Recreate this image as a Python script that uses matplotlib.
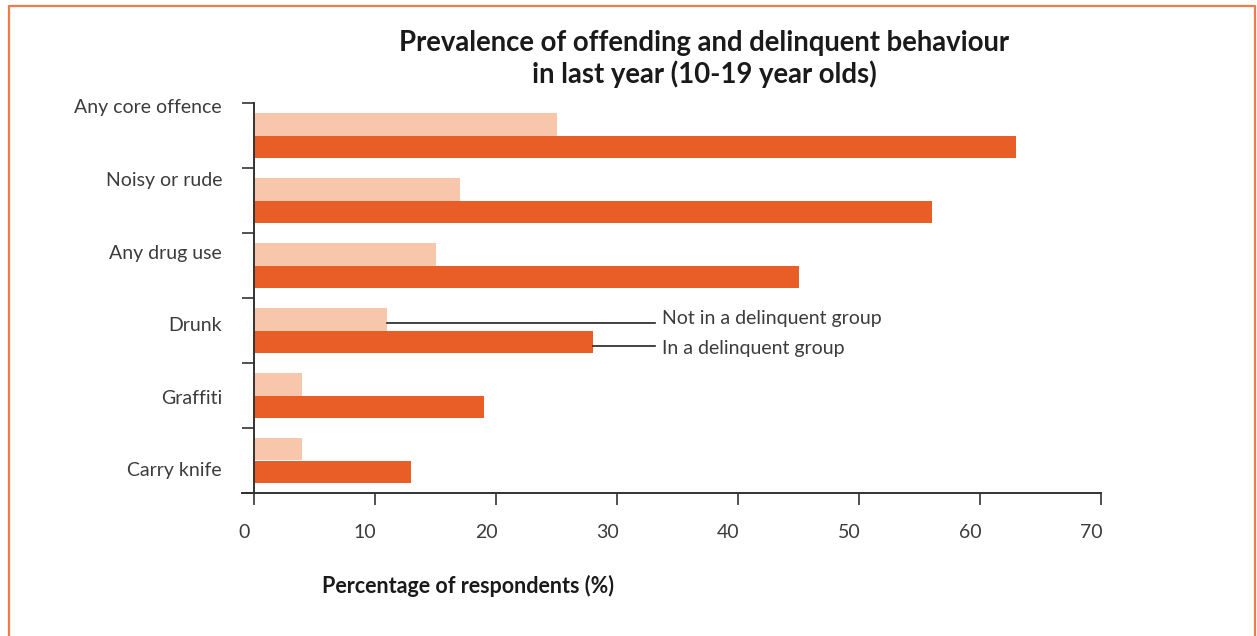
import matplotlib
matplotlib.use("Agg")
import matplotlib.pyplot as plt
from matplotlib.lines import Line2D
from matplotlib import transforms
import numpy as np

# DATA
categories = ["Any core offence", "Noisy or rude", "Any drug use", "Drunk", "Graffiti", "Carry knife"]
not_in_group = [25, 17, 15, 11, 4, 4]
in_group = [63, 56, 45, 28, 19, 13]
x_ticks = [0, 10, 20, 30, 40, 50, 60, 70]

# COLORS
DARK_ORANGE = "#E95E27"
LIGHT_ORANGE = "#F7C6AB"
FRAME_COLOR = "#EE7B4A"
TEXT_COLOR = "#3C3C3C"
AXIS_COLOR = "#333333"

plt.rcParams["font.family"] = ["Lato", "DejaVu Sans"]

fig = plt.figure(figsize=(12.57, 6.36), dpi=100)
W, H = 1257, 636
ax = fig.add_axes([242 / W, 1 - 493 / H, (1101 - 242) / W, (493 - 103) / H])

y = np.arange(len(categories))
bar_h = 0.345
ax.barh(y - bar_h / 2, not_in_group, height=bar_h, color=LIGHT_ORANGE, left=0)
ax.barh(y + bar_h / 2, in_group, height=bar_h, color=DARK_ORANGE, left=0)

ax.set_xlim(-1, 70)
ax.set_ylim(len(categories) - 0.5, -0.5)

# spines
for s in ["top", "right"]:
    ax.spines[s].set_visible(False)
ax.spines["left"].set_position(("data", 0))
for s in ["left", "bottom"]:
    ax.spines[s].set_color(AXIS_COLOR)
    ax.spines[s].set_linewidth(1.4)

# ticks: y ticks at category boundaries
ax.set_yticks(np.arange(len(categories) + 1) - 0.5)
ax.set_yticklabels([])
ax.tick_params(axis="y", direction="out", length=8.6, width=1.2, color=AXIS_COLOR)
ax.set_xticks(x_ticks)
ax.set_xticklabels([str(t) for t in x_ticks])
ax.tick_params(axis="x", direction="out", length=8.6, width=1.2, color=AXIS_COLOR,
               labelsize=14, labelcolor=TEXT_COLOR, pad=14)
offset = transforms.ScaledTranslation(-10 / 100, 0, fig.dpi_scale_trans)
for lbl in ax.get_xticklabels():
    lbl.set_transform(lbl.get_transform() + offset)

# category labels (slightly wider spacing than the slots, as in the source)
trans = transforms.blended_transform_factory(fig.transFigure, ax.transData)
for i, cat in enumerate(categories):
    ax.text(222 / W, -0.425 + i * 1.117, cat, transform=trans, ha="right", va="center",
            fontsize=14, color=TEXT_COLOR)

# direct labels for the two series (on the Drunk row)
idx = categories.index("Drunk")
ax.plot([not_in_group[idx], 33.1], [idx - bar_h / 2 + 0.05] * 2, color="#222222", lw=1.2)
ax.plot([in_group[idx], 33.1], [idx + bar_h / 2 + 0.06] * 2, color="#222222", lw=1.2)
ax.text(33.7, idx - bar_h / 2 - 0.01, "Not in a delinquent group", va="center", ha="left",
        fontsize=14, color=TEXT_COLOR)
ax.text(33.7, idx + bar_h / 2 + 0.11, "In a delinquent group", va="center", ha="left",
        fontsize=14, color=TEXT_COLOR)

# title and axis label
fig.text(704 / W, 1 - 59 / H, "Prevalence of offending and delinquent behaviour\nin last year (10-19 year olds)",
         ha="center", va="center", fontsize=19.8, fontweight="bold", color="#1A1A1A", linespacing=1.2)
fig.text(468 / W, 1 - 586 / H, "Percentage of respondents (%)", ha="center", va="center",
         fontsize=15.5, fontweight="bold", color="#1A1A1A")

# orange frame (left, top, right)
fig.add_artist(Line2D([8.5 / W, 8.5 / W, 1254.5 / W, 1254.5 / W],
                      [0, 1 - 5.5 / H, 1 - 5.5 / H, 0], color=FRAME_COLOR, lw=1.6,
                      transform=fig.transFigure))

fig.savefig("out.png", dpi=100)
